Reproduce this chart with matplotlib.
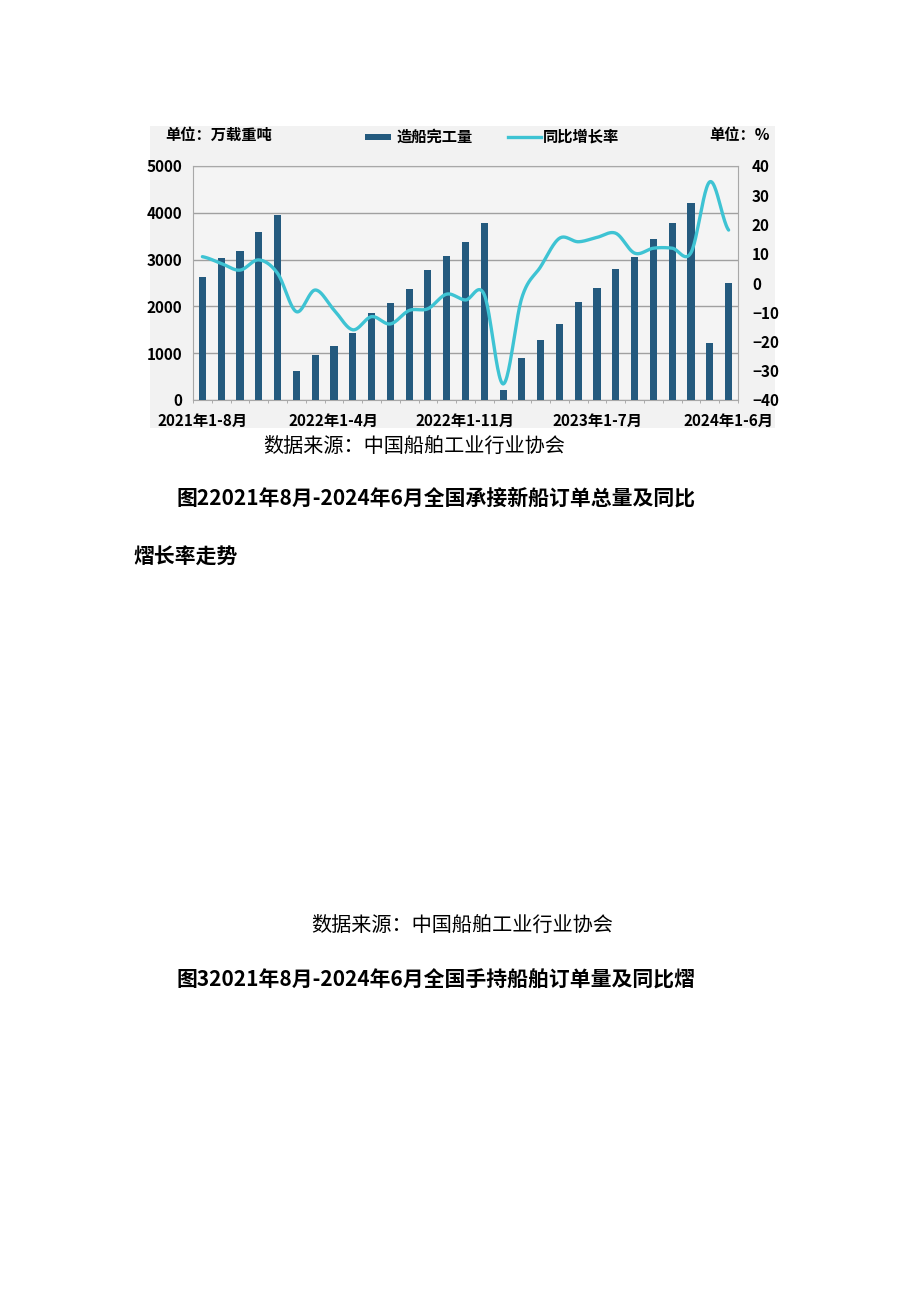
import numpy as np
import matplotlib
matplotlib.use("Agg")
import matplotlib.pyplot as plt
from matplotlib.patches import Rectangle
from matplotlib.lines import Line2D

plt.rcParams['font.family'] = ['Noto Sans CJK SC', 'DejaVu Sans']

# 造船完工量 (万载重吨), 累计值
periods = ["2021年1-8月", "2021年1-9月", "2021年1-10月", "2021年1-11月", "2021年1-12月",
           "2022年1-2月", "2022年1-3月", "2022年1-4月", "2022年1-5月", "2022年1-6月",
           "2022年1-7月", "2022年1-8月", "2022年1-9月", "2022年1-10月", "2022年1-11月",
           "2022年1-12月", "2023年1-2月", "2023年1-3月", "2023年1-4月", "2023年1-5月",
           "2023年1-6月", "2023年1-7月", "2023年1-8月", "2023年1-9月", "2023年1-10月",
           "2023年1-11月", "2023年1-12月", "2024年1-2月", "2024年1-6月"]
completions = [2620, 3030, 3190, 3600, 3960, 630, 955, 1155, 1425, 1850,
               2075, 2365, 2770, 3070, 3385, 3790, 210, 900, 1285, 1625,
               2095, 2395, 2790, 3065, 3450, 3790, 4215, 1225, 2495]
# 同比增长率 (%)
yoy = [9, 6.7, 4.4, 7.9, 3.3, -9.8, -2.4, -9.2, -16, -11.5,
       -14, -9.4, -8.8, -3.8, -5.8, -4, -34.5, -5, 5.6, 15.3,
       14.1, 15.6, 17, 10.2, 11.9, 11.9, 10.4, 34.6, 18.1]
label_idx = [0, 7, 14, 21, 28]

W, H = 920, 1301
fig = plt.figure(figsize=(W / 100, H / 100), dpi=100)
fig.patch.set_facecolor('white')


def fx(px):
    return px / W


def fy(py):
    return 1 - py / H


# chart background
bg = Rectangle((fx(150), fy(428)), fx(775) - fx(150), fy(126) - fy(428),
               transform=fig.transFigure, facecolor='#f2f2f2', edgecolor='none', zorder=-10)
fig.patches.append(bg)

ax = fig.add_axes([fx(193), fy(400), fx(738) - fx(193), fy(166) - fy(400)])
ax.set_facecolor('#f4f4f4')
x = np.arange(len(completions))
ax.bar(x, completions, width=0.38, color='#245a7e', zorder=3)
ax.set_xlim(-0.48, 28.45)
ax.set_ylim(0, 5000)
ax.set_yticks(range(0, 5001, 1000))
ax.grid(axis='y', color='#a0a0a0', lw=1, zorder=1)
for s in ax.spines.values():
    s.set_color('#a8a8a8')
ax.set_xticks(label_idx)
ax.set_xticklabels([periods[i] for i in label_idx], fontsize=11, fontweight='bold')
ax.set_xticks(np.arange(-0.5, 28.6, 1), minor=True)
ax.tick_params(axis='x', which='major', length=0, pad=9)
ax.tick_params(axis='x', which='minor', length=2, color='#a0a0a0')
ax.tick_params(axis='y', length=0, pad=8)
for t in ax.get_yticklabels():
    t.set_fontsize(11)
    t.set_fontweight('bold')

# smoothed growth line (Catmull-Rom through the data points)
ax2 = ax.twinx()
ax2.set_ylim(-40, 40)
ax2.set_yticks(range(-40, 41, 10))
ax2.tick_params(axis='y', length=0, pad=10)
for t in ax2.get_yticklabels():
    t.set_fontsize(11)
    t.set_fontweight('bold')
for s in ax2.spines.values():
    s.set_visible(False)
yv = np.array(yoy, dtype=float)
xs, ys = [], []
n = len(yv)
for i in range(n - 1):
    p0 = yv[max(i - 1, 0)]
    p1 = yv[i]
    p2 = yv[i + 1]
    p3 = yv[min(i + 2, n - 1)]
    t = np.linspace(0, 1, 25)
    seg = 0.5 * ((2 * p1) + (-p0 + p2) * t + (2 * p0 - 5 * p1 + 4 * p2 - p3) * t ** 2
                 + (-p0 + 3 * p1 - 3 * p2 + p3) * t ** 3)
    xs.extend(i + t)
    ys.extend(seg)
ax2.plot(xs, ys, color='#3ec3d3', lw=2.4, zorder=4, solid_capstyle='round')

# header texts and legend
fig.text(fx(165), fy(135), "单位：万载重吨", fontsize=11, fontweight='bold', va='center')
fig.patches.append(Rectangle((fx(365), fy(140)), fx(391) - fx(365), fy(134) - fy(140),
                             transform=fig.transFigure, facecolor='#245a7e', edgecolor='none'))
fig.text(fx(396), fy(137), "造船完工量", fontsize=11, fontweight='bold', va='center')
fig.lines.append(Line2D([fx(508), fx(541)], [fy(137), fy(137)], transform=fig.transFigure,
                        color='#3ec3d3', lw=2.4))
fig.text(fx(543), fy(137), "同比增长率", fontsize=11, fontweight='bold', va='center')
fig.text(fx(709), fy(135), "单位：%", fontsize=11, fontweight='bold', va='center')

# page texts
fig.text(fx(414), fy(446), "数据来源：中国船舶工业行业协会", fontsize=14.5, ha='center', va='center')
fig.text(fx(177), fy(498), "图22021年8月-2024年6月全国承接新船订单总量及同比",
         fontsize=15, fontweight='bold', va='center')
fig.text(fx(133), fy(557), "熠长率走势", fontsize=15, fontweight='bold', va='center')
fig.text(fx(462), fy(925), "数据来源：中国船舶工业行业协会", fontsize=14.5, ha='center', va='center')
fig.text(fx(177), fy(980), "图32021年8月-2024年6月全国手持船舶订单量及同比熠",
         fontsize=15, fontweight='bold', va='center')

fig.savefig("out.png", dpi=100)
